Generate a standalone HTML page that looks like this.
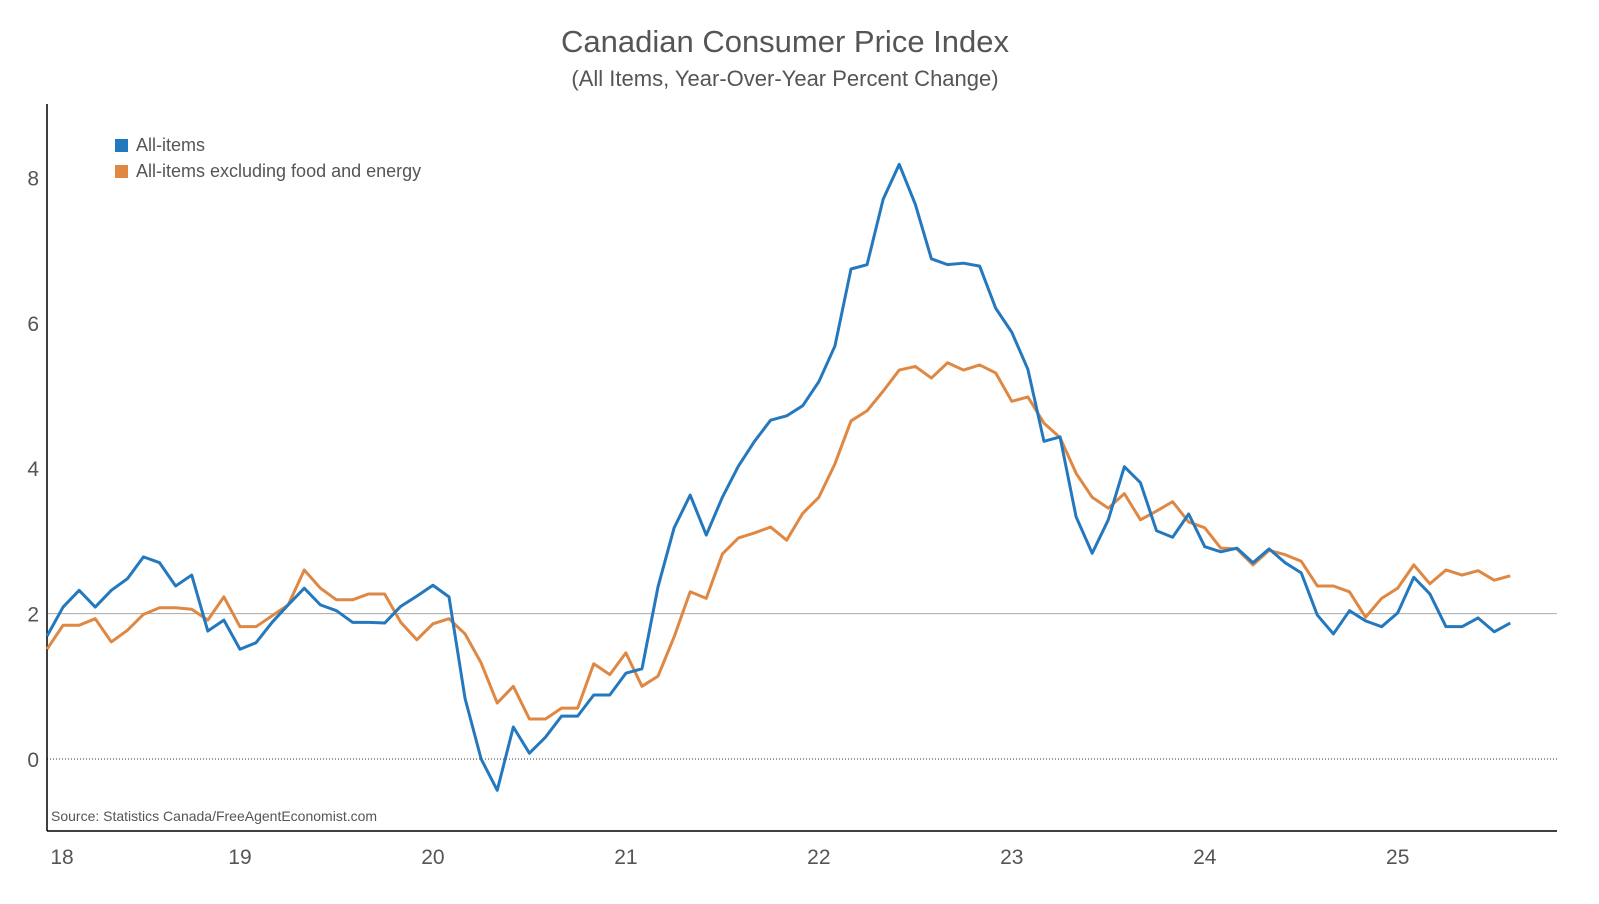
<!DOCTYPE html>
<html><head><meta charset="utf-8"><style>
body{margin:0;background:#fff;}
svg text{font-family:"Liberation Sans",sans-serif;}
</style></head><body>
<svg id="chart" width="1599" height="899" xmlns="http://www.w3.org/2000/svg">
<text x="785" y="52" text-anchor="middle" font-size="31" fill="#555">Canadian Consumer Price Index</text>
<text x="785" y="86" text-anchor="middle" font-size="22" fill="#555">(All Items, Year-Over-Year Percent Change)</text>
<g>
<rect x="115" y="139" width="13" height="13" fill="#2478be"/>
<text x="136" y="151" font-size="18" fill="#555">All-items</text>
<rect x="115" y="165" width="13" height="13" fill="#de8844"/>
<text x="136" y="177" font-size="18" fill="#555">All-items excluding food and energy</text>
</g>
<text x="51" y="821" font-size="14" fill="#555">Source: Statistics Canada/FreeAgentEconomist.com</text>
</svg>
<script>
const allItems=[1.69,2.09,2.32,2.09,2.32,2.48,2.78,2.70,2.38,2.53,1.76,1.91,
1.51,1.6,1.88,2.12,2.35,2.12,2.04,1.88,1.88,1.87,2.1,2.24,
2.39,2.23,0.83,0.0,-0.43,0.44,0.08,0.3,0.59,0.59,0.88,0.88,
1.18,1.24,2.37,3.18,3.63,3.08,3.6,4.03,4.37,4.66,4.72,4.86,
5.19,5.68,6.74,6.8,7.7,8.18,7.63,6.88,6.8,6.82,6.78,6.2,
5.87,5.36,4.37,4.43,3.33,2.83,3.29,4.02,3.8,3.14,3.05,3.37,
2.92,2.85,2.9,2.7,2.89,2.7,2.56,1.98,1.72,2.04,1.9,1.82,
2.01,2.5,2.27,1.82,1.82,1.94,1.75,1.87];
const coreItems=[1.51,1.84,1.84,1.93,1.61,1.77,1.99,2.08,2.08,2.06,1.91,2.23,
1.82,1.82,1.97,2.12,2.6,2.35,2.19,2.19,2.27,2.27,1.88,1.64,
1.86,1.93,1.72,1.32,0.77,1.0,0.55,0.55,0.7,0.7,1.31,1.16,
1.46,1.0,1.14,1.68,2.3,2.21,2.82,3.04,3.11,3.19,3.01,3.38,
3.6,4.06,4.65,4.79,5.06,5.35,5.4,5.24,5.45,5.35,5.42,5.31,
4.92,4.98,4.62,4.42,3.93,3.6,3.45,3.65,3.29,3.41,3.54,3.26,
3.18,2.9,2.89,2.67,2.87,2.81,2.72,2.38,2.38,2.3,1.95,2.21,
2.35,2.67,2.41,2.6,2.53,2.59,2.46,2.52];
const yTicks=[0,2,4,6,8];
const xTickLabels=["18","19","20","21","22","23","24","25"];

const NS="http://www.w3.org/2000/svg";
const svg=document.getElementById('chart');
const L=47,R=1557,T=104,B=831;
const x=i=>L+i*16.08;
const y=v=>759-v*72.7;
function mk(tag,attrs){const e=document.createElementNS(NS,tag);for(const k in attrs)e.setAttribute(k,attrs[k]);svg.appendChild(e);return e;}

// gridlines
let g2=mk('line',{x1:L,x2:R,y1:y(2),y2:y(2),stroke:'#aaa','stroke-width':1});


let g0=mk('line',{x1:L,x2:R,y1:y(0),y2:y(0),stroke:'#333','stroke-width':1,'stroke-dasharray':'1,2'});


// axes
let ya=mk('line',{x1:L,x2:L,y1:T,y2:B,stroke:'#000','stroke-width':1.5});


let xa=mk('line',{x1:L,x2:R,y1:B,y2:B,stroke:'#000','stroke-width':1.5});



yTicks.forEach(v=>{
  const t=mk('text',{x:39,y:y(v)+8,'text-anchor':'end','font-size':21,fill:'#555'});
  t.textContent=v;
  
  
});
xTickLabels.forEach((s,i)=>{
  const t=mk('text',{x:Math.max(62,x(i*12)),y:864,'text-anchor':'middle','font-size':21,fill:'#555'});
  t.textContent=s;
  
  
});

function line(data,color,name){
  const p=mk('polyline',{points:data.map((v,i)=>x(i)+','+y(v)).join(' '),fill:'none',stroke:color,'stroke-width':3,'stroke-linejoin':'round'});
  
  
}
line(coreItems,'#de8844','line-core');
line(allItems,'#2478be','line-all-items');
</script>
</body></html>
